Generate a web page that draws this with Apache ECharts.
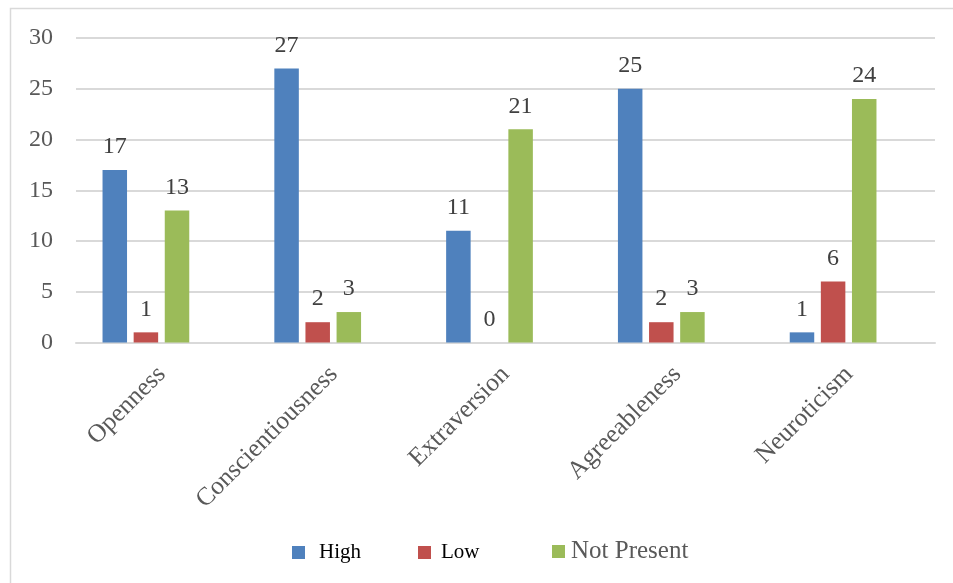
<!DOCTYPE html>
<html>
<head>
<meta charset="utf-8">
<title>Big Five traits</title>
<script src="https://cdn.jsdelivr.net/npm/echarts@6/dist/echarts.min.js"></script>
<style>
  html, body { margin: 0; padding: 0; background: #fff; }
  #chart { width: 953px; height: 583px; }
</style>
</head>
<body>
<div id="chart"></div>
<script>
// Trait categories and counts per level
const categories = ['Openness', 'Conscientiousness', 'Extraversion', 'Agreeableness', 'Neuroticism'];
const highValues = [17, 27, 11, 25, 1];
const lowValues = [1, 2, 0, 2, 6];
const notPresentValues = [13, 3, 21, 3, 24];
const seriesNames = ['High', 'Low', 'Not Present'];
const seriesColors = ['#4f81bd', '#c0504d', '#9bbb59'];
const yTicks = { min: 0, max: 30, interval: 5 };

const FONT = 'Liberation Serif';

const chart = echarts.init(document.getElementById('chart'), null, { renderer: 'canvas' });

function barSeries(name, data, color) {
  return {
    name: name,
    type: 'bar',
    xAxisIndex: 0,
    yAxisIndex: 0,
    data: data,
    barWidth: 24.5,
    barGap: '27%',
    itemStyle: { color: color },
    label: {
      show: true,
      position: 'top',
      distance: 11,
      fontFamily: FONT,
      fontSize: 24,
      color: '#404040'
    }
  };
}

function legendFor(name, left, top, gap, size, color) {
  return {
    data: [name],
    left: left,
    top: top,
    padding: 0,
    itemWidth: 13,
    itemHeight: 13,
    icon: 'rect',
    selectedMode: false,
    textStyle: {
      fontFamily: FONT,
      fontSize: size,
      color: color,
      padding: [0, 0, 0, gap]
    }
  };
}

const option = {
  backgroundColor: '#ffffff',
  animation: false,
  graphic: [{
    type: 'rect',
    shape: { x: 10.5, y: 8.5, width: 960, height: 600 },
    style: { fill: 'none', stroke: '#d9d9d9', lineWidth: 1.5 },
    silent: true
  }],
  legend: [
    legendFor('High', 292, 542, 9, 21, '#000000'),
    legendFor('Low', 418, 542, 5, 21, '#000000'),
    legendFor('Not Present', 552, 539, 1, 25, '#595959')
  ],
  grid: [
    { left: 60, right: 34, top: 38, bottom: 240.5 },
    { left: 76, right: 18, top: 38, bottom: 240.5 }
  ],
  xAxis: [
    { type: 'category', gridIndex: 0, data: categories, show: false },
    {
      type: 'category',
      gridIndex: 1,
      data: categories,
      axisLine: { show: true, lineStyle: { color: '#d9d9d9', width: 2 } },
      axisTick: { show: false },
      axisLabel: {
        rotate: 45,
        margin: 28,
        fontFamily: FONT,
        fontSize: 25.5,
        color: '#595959'
      }
    }
  ],
  yAxis: [
    { type: 'value', gridIndex: 0, min: yTicks.min, max: yTicks.max, interval: yTicks.interval, show: false, splitLine: { show: false } },
    {
      type: 'value',
      gridIndex: 1,
      min: yTicks.min,
      max: yTicks.max,
      interval: yTicks.interval,
      axisLine: { show: false },
      axisTick: { show: false },
      splitLine: { lineStyle: { color: '#d9d9d9', width: 2 } },
      axisLabel: {
        margin: 23,
        fontFamily: FONT,
        fontSize: 24,
        color: '#595959'
      }
    }
  ],
  series: [
    barSeries(seriesNames[0], highValues, seriesColors[0]),
    barSeries(seriesNames[1], lowValues, seriesColors[1]),
    barSeries(seriesNames[2], notPresentValues, seriesColors[2])
  ]
};

chart.setOption(option);
</script>
</body>
</html>
